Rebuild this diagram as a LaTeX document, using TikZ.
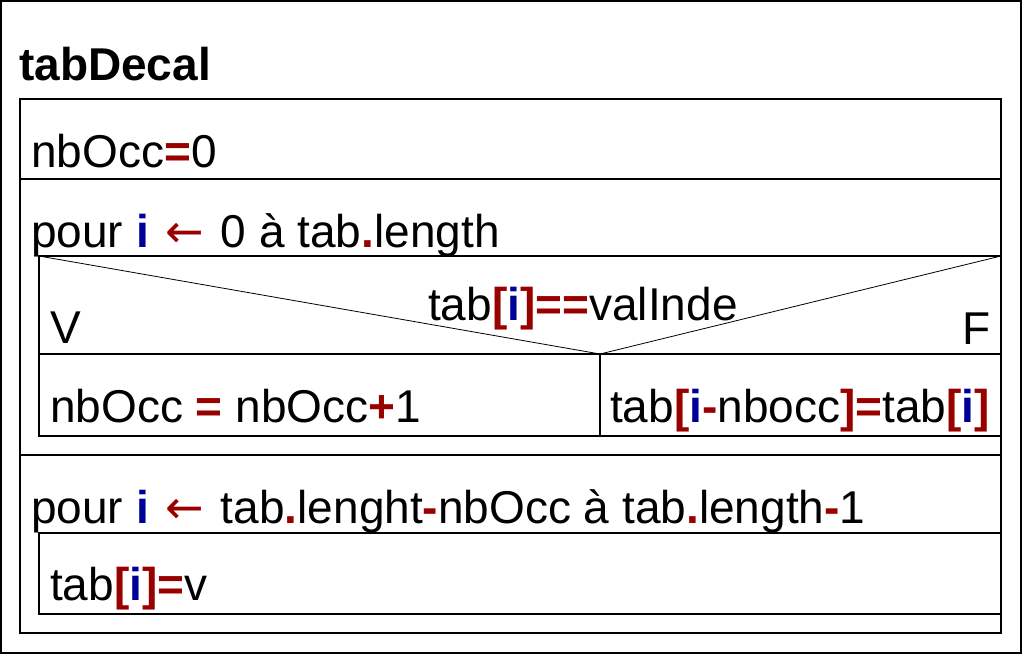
\documentclass[tikz,border=0pt]{standalone}
\usepackage{fontspec}
\setmainfont{Liberation Sans}
\newfontfamily\arrowfont{DejaVu Sans}
\usepackage{xcolor}
\definecolor{opred}{HTML}{990000}
\definecolor{varblue}{HTML}{000099}
\newcommand{\opr}[1]{\textcolor{opred}{\textbf{#1}}}
\newcommand{\varb}[1]{\textcolor{varblue}{\textbf{#1}}}
\newcommand{\larr}{\hspace{4pt}\textcolor{opred}{\arrowfont ←}\hspace{4pt}}

\begin{document}
\begin{tikzpicture}[x=1pt,y=-1pt,
    txt/.style={anchor=base west, inner sep=0pt, font=\fontsize{46}{55}\selectfont},
    box/.style={line width=1.3pt}]
    \useasboundingbox (0,0) rectangle (1022,654);
    \fill[white] (0,0) rectangle (1022,654);
    \draw[line width=2pt] (1,1) rectangle (1021,653); % Outer frame

    \node[txt, font=\fontsize{46}{55}\selectfont\bfseries] (title) at (19,80) {tabDecal};

    \draw[box] (20,99) rectangle (1001,633); % Main block
    \draw[box] (20,179) -- (1001,179); % After init
    \draw[box] (20,455) -- (1001,455); % After first loop

    % Init
    \node[txt] (init) at (31,167) {nbOcc\opr{=}0};

    % First loop
    \node[txt] (loopA) at (31,247) {pour \varb{i} \larr{} 0 à tab\opr{.}length};
    \draw[box] (39,256) rectangle (1001,436); % Loop body
    \draw[line width=0.8pt] (39,256) -- (600,354) -- (1001,256); % Condition
    \draw[box] (39,354) -- (1001,354);
    \draw[box] (600,354) -- (600,436);
    \node[txt] (cond) at (428,320) {tab\opr{[}\varb{i}\opr{]==}valInde};
    \node[txt] (yes) at (50,343) {V};
    \node[txt, anchor=base east] (no) at (991,344) {F};
    \node[txt] (thenA) at (50,422) {nbOcc \opr{=} nbOcc\opr{+}1};
    \node[txt] (elseA) at (610,422) {tab\opr{[}\varb{i}\opr{-}nbocc\opr{]=}tab\opr{[}\varb{i}\opr{]}};

    % Second loop
    \node[txt] (loopB) at (31,523) {pour \varb{i} \larr{} tab\opr{.}lenght\opr{-}nbOcc à tab\opr{.}length\opr{-}1};
    \draw[box] (39,533) rectangle (1001,614); % Loop body
    \node[txt] (bodyB) at (50,600) {tab\opr{[}\varb{i}\opr{]=}v};
\end{tikzpicture}
\end{document}
